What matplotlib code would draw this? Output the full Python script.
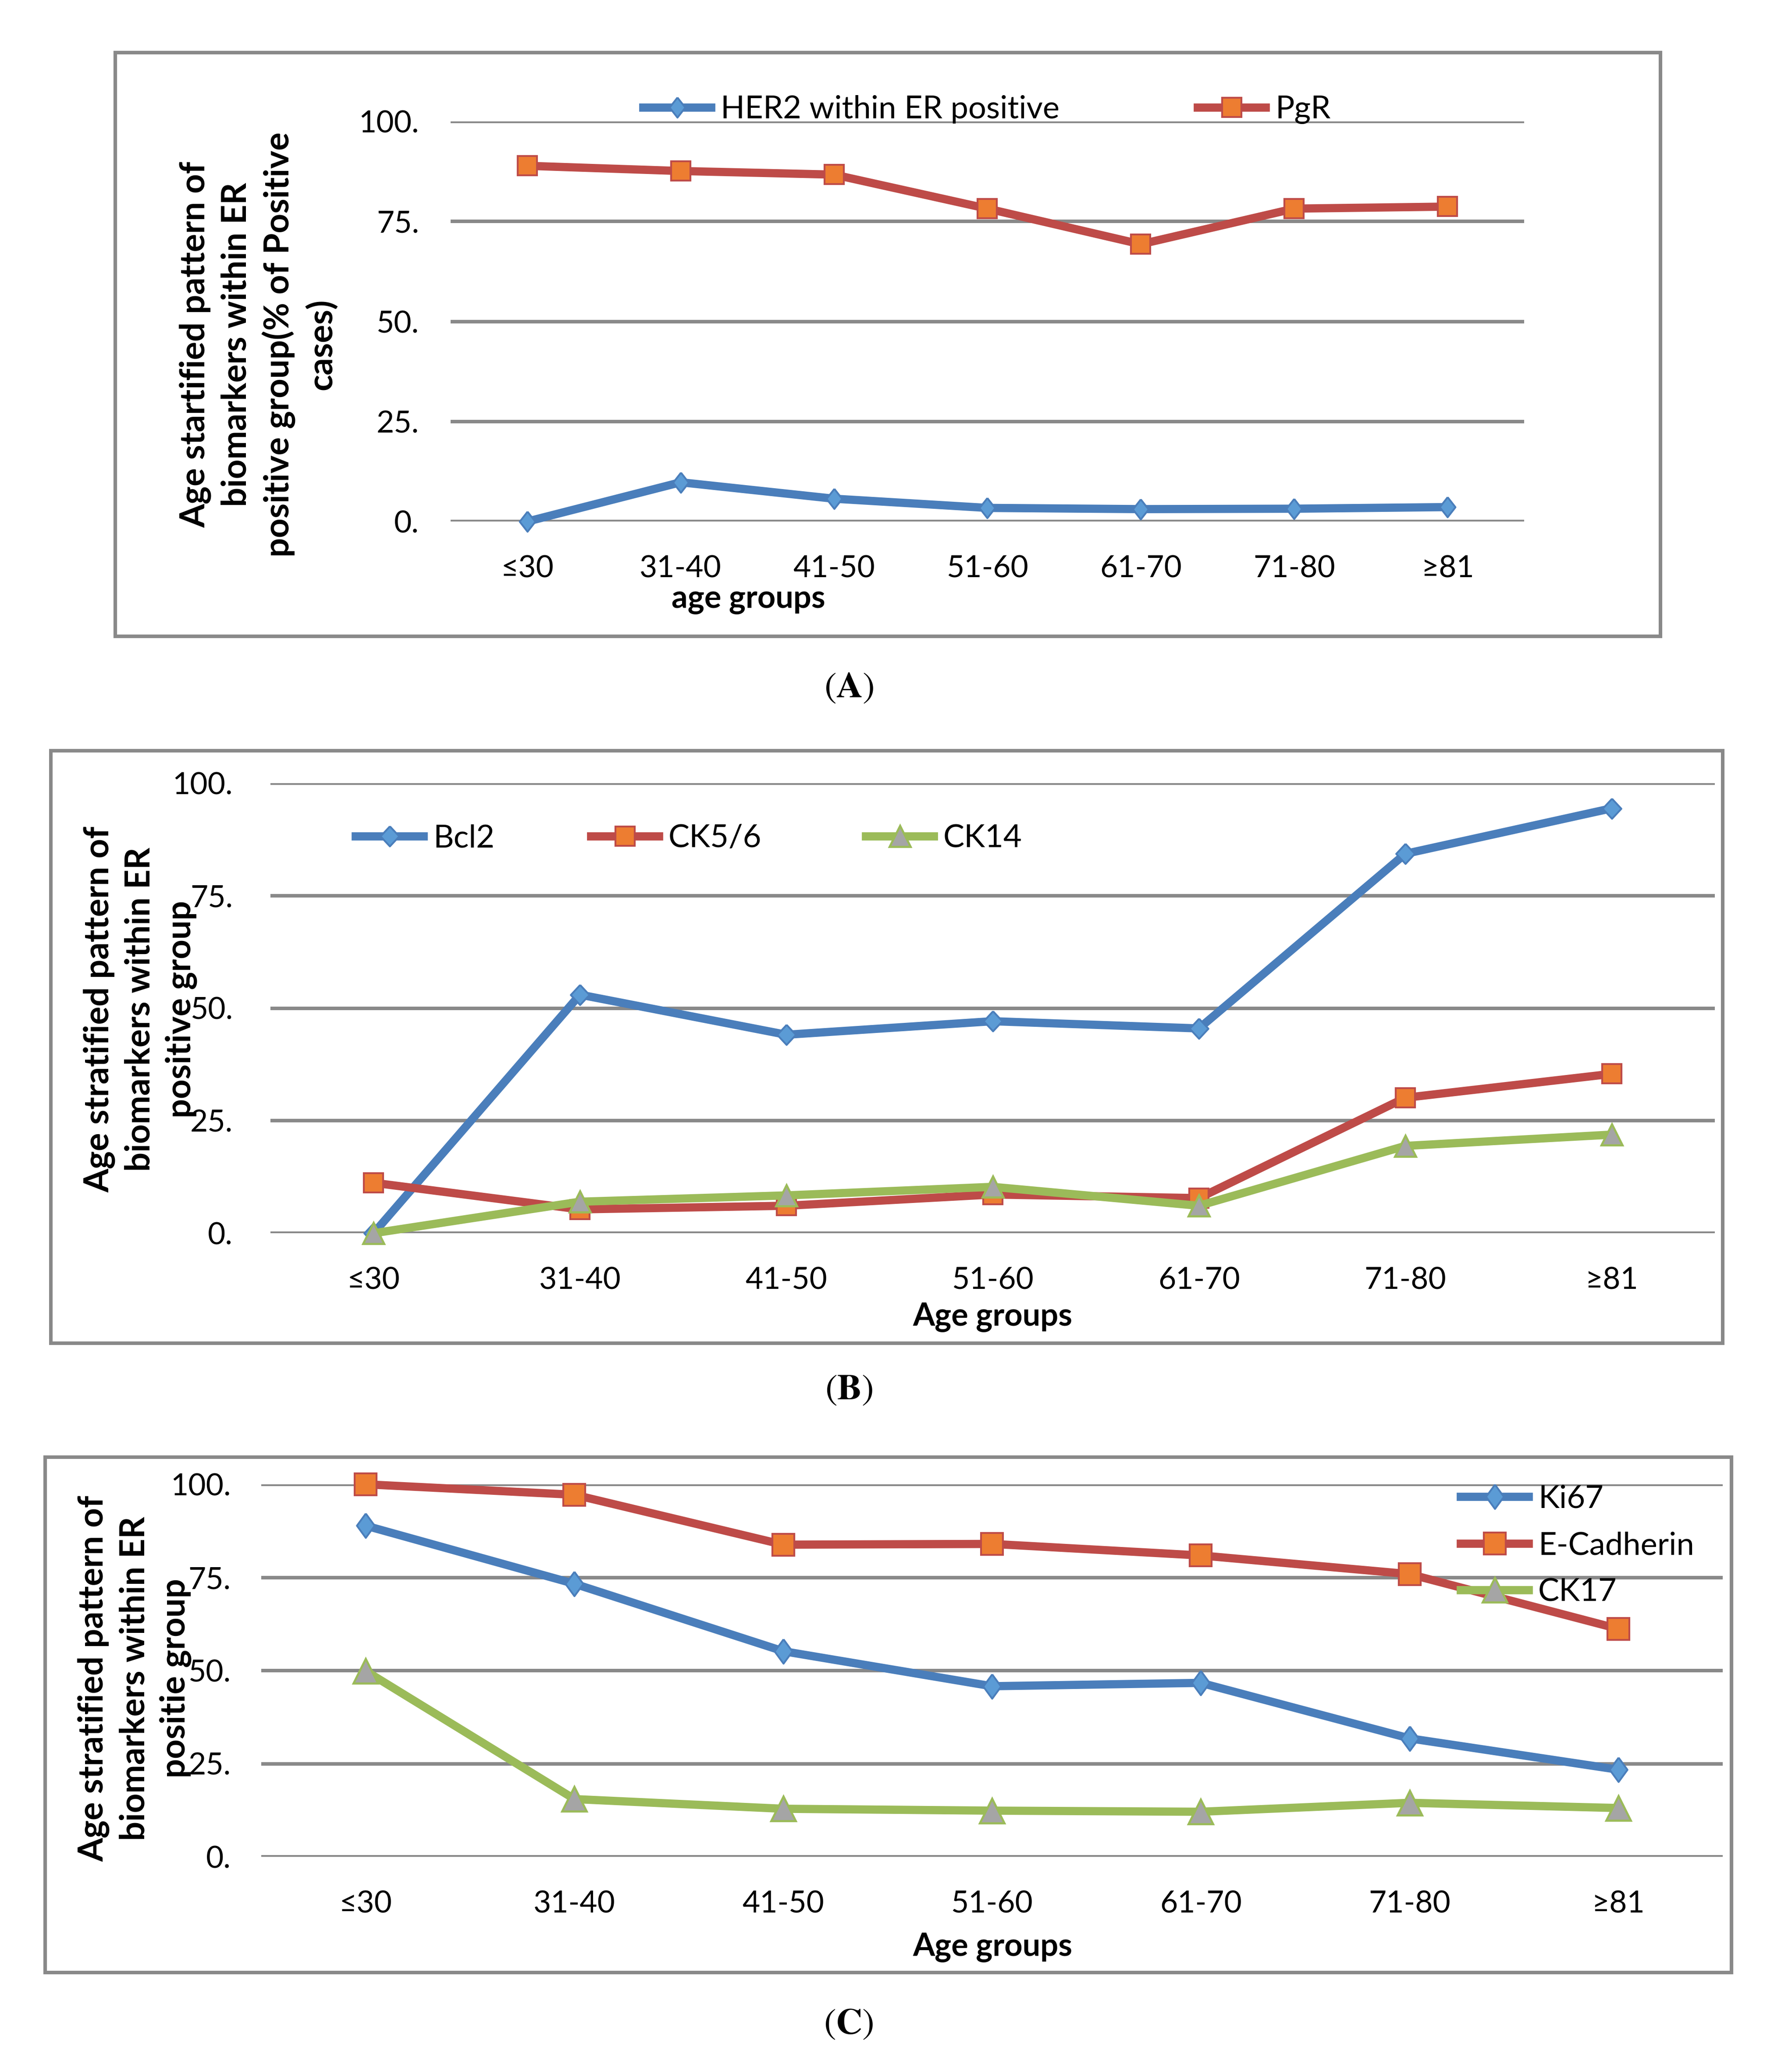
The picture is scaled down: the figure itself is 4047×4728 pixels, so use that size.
import matplotlib
matplotlib.use("Agg")
import matplotlib.pyplot as plt
from matplotlib.patches import Rectangle

# ---- data -------------------------------------------------------------
age_groups = ["≤30", "31-40", "41-50", "51-60", "61-70", "71-80", "≥81"]
y_ticks = [0, 25, 50, 75, 100]
y_tick_labels = ["0.", "25.", "50.", "75.", "100."]

# panel A
her2_er_pos = [0.0, 9.8, 5.7, 3.4, 3.1, 3.2, 3.6]
pgr = [88.9, 87.6, 86.7, 78.2, 69.3, 78.2, 78.7]

# panel B
bcl2 = [0.0, 53.0, 44.1, 47.1, 45.5, 84.3, 94.4]
ck5_6 = [11.2, 5.3, 6.1, 8.6, 7.8, 30.1, 35.4]
ck14 = [0.0, 7.0, 8.4, 10.3, 6.1, 19.4, 21.9]

# panel C
ki67 = [88.9, 73.3, 55.2, 45.8, 46.7, 31.8, 23.4]
e_cadherin = [100.0, 97.2, 83.8, 84.0, 80.9, 75.9, 61.2]
ck17 = [49.9, 15.5, 12.9, 12.4, 12.1, 14.5, 13.1]

# ---- style ------------------------------------------------------------
W, H = 4048, 4728
DPI = 100
SANS = ["Lato", "DejaVu Sans"]
GRID = "#898989"
LW = 13.5


def diamond(r):
    return [(0, 1), (r, 0), (0, -1), (-r, 0), (0, 1)]


def blue(r, ms):
    return dict(color="#4A7EBB", marker=diamond(r), ms=ms, mfc="#5B9BD5",
                mec="#4A7EBB", mew=3)


def red(ms):
    return dict(color="#BE4B48", marker="s", ms=ms, mfc="#ED7D31",
                mec="#BE4B48", mew=3)


def green(ms):
    return dict(color="#9BBB59", marker="^", ms=ms, mfc="#A5A5A5",
                mec="#9BBB59", mew=3.5)


def fx(px):
    return px / W


def fy(py):
    return 1 - py / H


fig = plt.figure(figsize=(W / DPI, H / DPI), dpi=DPI)


def panel(ax_px, box_px, series, ylabel, ylabel_xy, xlabel, xlabel_xy,
          ypad, legend_xy, caption, caption_xy):
    x0, y0, x1, y1 = box_px
    fig.add_artist(Rectangle((fx(x0), fy(y1)), (x1 - x0) / W, (y1 - y0) / H,
                             transform=fig.transFigure, fill=False,
                             ec=GRID, lw=5.8))
    a0, b0, a1, b1 = ax_px
    ax = fig.add_axes([fx(a0), fy(b1), (a1 - a0) / W, (b1 - b0) / H])
    x = list(range(len(age_groups)))
    lines = []
    for vals, name, st in series:
        ln, = ax.plot(x, vals, lw=LW, clip_on=False, zorder=3, label=name, **st)
        lines.append(ln)
    ax.set_xlim(-0.5, len(age_groups) - 0.5)
    ax.set_ylim(0, 100)
    ax.set_yticks(y_ticks, y_tick_labels)
    ax.set_xticks(x, age_groups)
    for s in ax.spines.values():
        s.set_visible(False)
    ax.set_axisbelow(True)
    ax.grid(axis="y", color=GRID, lw=5.8)
    ax.tick_params(axis="both", length=0, labelsize=50)
    ax.tick_params(axis="y", pad=ypad)
    ax.tick_params(axis="x", pad=55)
    for t in ax.get_xticklabels() + ax.get_yticklabels():
        t.set_family(SANS)

    fig.text(fx(ylabel_xy[0]), fy(ylabel_xy[1]), ylabel, rotation=90,
             ha="center", va="center", multialignment="center",
             linespacing=1.36, fontsize=56, fontweight="bold", family=SANS)
    fig.text(fx(xlabel_xy[0]), fy(xlabel_xy[1]), xlabel, ha="center",
             va="center", fontsize=52, fontweight="bold", family=SANS)

    for ln, (lx, ly) in zip(lines, legend_xy):
        fig.legend([ln], [ln.get_label()], loc="center left",
                   bbox_to_anchor=(fx(lx), fy(ly)), frameon=False,
                   borderpad=0, borderaxespad=0, handlelength=2.15,
                   handletextpad=0.3, numpoints=1,
                   prop={"family": SANS, "size": 52})

    fig.text(fx(caption_xy[0]), fy(caption_xy[1]),
             r"$(\mathbf{" + caption + "})$", ha="center", va="center",
             fontsize=60, math_fontfamily="stix")
    return ax


panel((1028, 277, 3477, 1190), (263, 120, 3788, 1452),
      [(her2_er_pos, "HER2 within ER positive", blue(0.78, 33)),
       (pgr, "PgR", red(31))],
      "Age startified pattern of\nbiomarkers within ER\n"
      "positive group(% of Positive\ncases)",
      (590, 786), "age groups", (1707, 1368), 52,
      [(1467, 250), (2732, 250)], "A", (1937, 1568))

panel((617, 1787, 3912, 2814), (116, 1713, 3930, 3065),
      [(bcl2, "Bcl2", blue(0.93, 33)),
       (ck5_6, "CK5/6", red(32)),
       (ck14, "CK14", green(34))],
      "Age stratified pattern of\nbiomarkers within ER\npositive group",
      (320, 2303), "Age groups", (2264, 3005), 62,
      [(811, 1913), (1348, 1913), (1975, 1913)], "B", (1937, 3170))

panel((596, 3387, 3930, 4237), (103, 3325, 3950, 4501),
      [(ki67, "Ki67", blue(0.73, 40)),
       (e_cadherin, "E-Cadherin", red(36)),
       (ck17, "CK17", green(40))],
      "Age stratified pattern of\nbiomarkers within ER\npositie group",
      (307, 3830), "Age groups", (2264, 4443), 50,
      [(3332, 3420), (3332, 3527), (3332, 3633)], "C", (1936, 4617))

fig.savefig("out.png", dpi=DPI, facecolor="white")
